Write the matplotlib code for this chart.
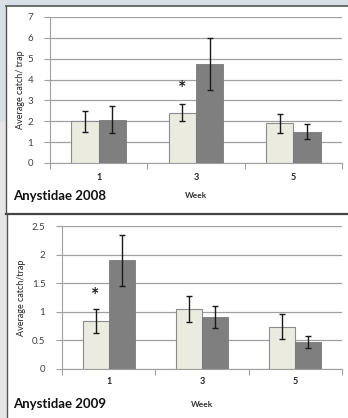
import numpy as np
import matplotlib.pyplot as plt
from matplotlib.patches import Rectangle
from matplotlib.lines import Line2D

plt.rcParams['font.family'] = ['Lato', 'DejaVu Sans']

# Data
weeks = ['1', '3', '5']

light_2008 = [2.0, 2.42, 1.9]
light_2008_err = [0.5, 0.43, 0.45]
dark_2008 = [2.08, 4.75, 1.5]
dark_2008_err = [0.63, 1.25, 0.37]

light_2009 = [0.84, 1.05, 0.74]
light_2009_err = [0.21, 0.23, 0.22]
dark_2009 = [1.9, 0.91, 0.47]
dark_2009_err = [0.45, 0.19, 0.11]

W, H = 348, 418
fig = plt.figure(figsize=(W / 100, H / 100), dpi=100)
fig.patch.set_facecolor('#e6e6e6')


def px(x, y, w, h):
    # pixel box (top-left origin) -> figure fraction
    return [x / W, 1 - (y + h) / H, w / W, h / H]


# background pieces and the two white panels
fig.patches.append(Rectangle((0, 1 - 120 / H), 1, 120 / H, transform=fig.transFigure,
                             color='#d9dfe7', zorder=-5))
for x0, y0, y1 in [(6, 6, 213), (7, 214, 418)]:
    fig.patches.append(Rectangle((x0 / W, 1 - y1 / H), 1, (y1 - y0) / H,
                                 transform=fig.transFigure, facecolor='white',
                                 edgecolor='none', zorder=-4))
fig.lines.append(Line2D([6 / W, 1], [1 - 6 / H] * 2, transform=fig.transFigure, color='#555555', lw=1.2))
fig.lines.append(Line2D([6 / W, 6 / W], [1 - 6 / H, 1 - 213 / H], transform=fig.transFigure, color='#555555', lw=1.0))
fig.lines.append(Line2D([6 / W, 1], [1 - 213.5 / H] * 2, transform=fig.transFigure, color='#444444', lw=1.6))
fig.lines.append(Line2D([7 / W, 7 / W], [1 - 214 / H, 0], transform=fig.transFigure, color='#555555', lw=1.0))

ax1 = fig.add_axes(px(50, 17, 292, 146))
ax2 = fig.add_axes(px(62, 226, 280, 143))

panels = [
    (ax1, light_2008, light_2008_err, dark_2008, dark_2008_err, 7, 1, 'Average catch/ trap', 1, 3.55, -0.1, -0.225),
    (ax2, light_2009, light_2009_err, dark_2009, dark_2009_err, 2.5, 0.5, 'Average catch/trap', 0, 1.29, -0.09, -0.245),
]

x = np.arange(len(weeks))
bw = 0.28
for ax, lv, le, dv, de, ymax, step, ylab, star_i, star_y, wk_y, lab_y in panels:
    ax.set_facecolor('none')
    ax.set_ylim(0, ymax)
    ax.set_xlim(-0.5, len(weeks) - 0.5)
    yt = np.arange(0, ymax + step / 2, step)
    ax.set_yticks(yt)
    ax.set_yticklabels([f'{v:g}' for v in yt])
    ax.yaxis.grid(True, color='#a0a0a0', lw=0.9)
    ax.set_axisbelow(True)
    ax.bar(x - bw / 2, lv, bw, color='#ecebe0', edgecolor='#8c8c8c', lw=0.8, zorder=2)
    ax.bar(x + bw / 2, dv, bw, color='#7f7f7f', edgecolor='#7a7a7a', lw=0.6, zorder=2)
    ax.errorbar(x - bw / 2, lv, yerr=le, fmt='none', ecolor='#1a1a1a', elinewidth=1, capsize=2.5, capthick=1, zorder=3)
    ax.errorbar(x + bw / 2, dv, yerr=de, fmt='none', ecolor='#1a1a1a', elinewidth=1, capsize=2.5, capthick=1, zorder=3)
    ax.text(star_i - bw / 2, star_y, '*', ha='center', va='center', fontsize=14, fontweight='bold', color='#222222')

    for s in ['top', 'right']:
        ax.spines[s].set_visible(False)
    ax.spines['left'].set_color('#a0a0a0')
    ax.spines['bottom'].set_color('#a0a0a0')
    ax.set_xticks([-0.5, 0.5, 1.5, 2.5])
    ax.set_xticklabels([])
    ax.tick_params(axis='x', length=4, color='#a0a0a0')
    ax.tick_params(axis='y', length=4, color='#a0a0a0', labelsize=7, labelcolor='#404040', pad=8)
    for i, w in enumerate(weeks):
        ax.text(i, wk_y, w, transform=ax.get_xaxis_transform(), ha='center', va='center',
                fontsize=6.5, fontweight='bold', color='#222222')
    ax.text(0.5, lab_y, 'Week', transform=ax.transAxes, ha='center', va='center',
            fontsize=6, fontweight='bold', color='#333333')
    ax.set_ylabel(ylab, fontsize=6.5, color='#222222', labelpad=8)

fig.text(13 / W, 1 - 196 / H, 'Anystidae 2008', fontsize=9.5, fontweight='bold', va='center', color='#111111')
fig.text(13 / W, 1 - 404 / H, 'Anystidae 2009', fontsize=9.5, fontweight='bold', va='center', color='#111111')
ax1.yaxis.set_label_coords(-0.085, 0.5)
ax2.yaxis.set_label_coords(-0.13, 0.5)

fig.savefig('out.png', dpi=100)
